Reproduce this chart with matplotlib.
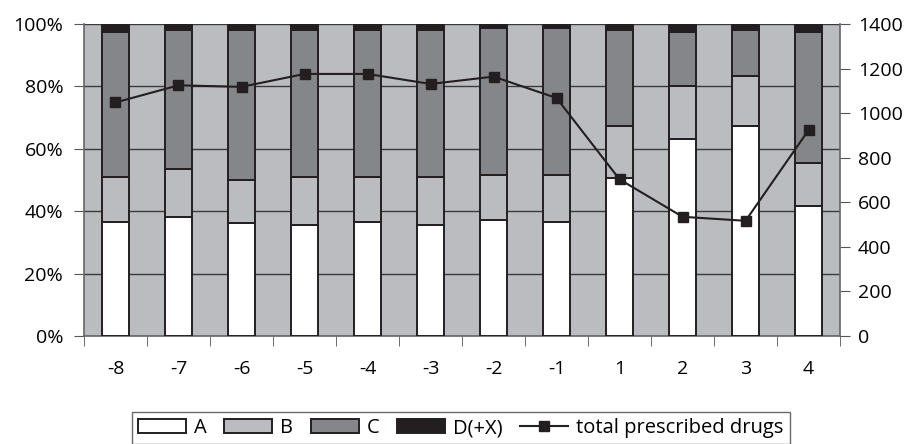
import matplotlib.pyplot as plt
import numpy as np

plt.rcParams['font.family'] = ['Open Sans', 'DejaVu Sans']

periods = ['-8', '-7', '-6', '-5', '-4', '-3', '-2', '-1', '1', '2', '3', '4']
# shares (%) per category
a = [36.6, 38.0, 36.1, 35.6, 36.6, 35.6, 37.2, 36.6, 50.5, 63.0, 67.3, 41.8]
b = [14.5, 15.4, 13.9, 15.4, 14.4, 15.5, 14.4, 15.0, 16.9, 17.0, 16.0, 13.7]
c = [46.4, 44.7, 48.1, 47.1, 47.1, 47.0, 47.0, 47.0, 30.7, 17.3, 14.8, 41.8]
d = [2.5, 1.9, 1.9, 1.9, 1.9, 1.9, 1.4, 1.4, 1.9, 2.7, 1.9, 2.7]
total = [1048, 1125, 1118, 1176, 1176, 1131, 1164, 1068, 703, 535, 517, 924]

x = np.arange(len(periods))
fig = plt.figure(figsize=(9.07, 4.44), dpi=100)
ax = fig.add_axes([0.0926, 0.2432, 0.8336, 0.7027])
ax.set_facecolor('#bbbcc0')

w = 0.42
bot = np.zeros(len(x))
cols = ['white', '#bbbcc0', '#858689', '#231f20']
names = ['A', 'B', 'C', 'D(+X)']
handles = []
for vals, col, nm in zip([a, b, c, d], cols, names):
    h = ax.bar(x, vals, w, bottom=bot, color=col, edgecolor='#231f20', linewidth=1.4, label=nm, zorder=3)
    handles.append(h)
    bot = bot + np.array(vals)

ax.set_xlim(-0.5, len(x) - 0.5)
ax.set_ylim(0, 100)
ax.set_yticks(range(0, 101, 20))
ax.set_yticklabels([f'{v}%' for v in range(0, 101, 20)])
ax.yaxis.grid(True, color='#3a3a3a', linewidth=1.0, zorder=1)
ax.set_axisbelow(True)
ax.set_xticks(x)
ax.set_xticklabels(periods)
ax.set_xticks(np.arange(-0.5, len(x), 1), minor=True)
ax.tick_params(axis='x', which='major', length=0, pad=17, labelsize=14)
ax.tick_params(axis='x', which='minor', length=7, color='#555555')
ax.tick_params(axis='y', length=7, pad=8, labelsize=14, color='#555555')
for s in ['top', 'right']:
    ax.spines[s].set_visible(False)
for s in ['left', 'bottom']:
    ax.spines[s].set_color('#666666')
    ax.spines[s].set_linewidth(1.2)

ax2 = ax.twinx()
ln, = ax2.plot(x, total, color='#231f20', marker='s', markersize=7.5, linewidth=1.5, label='total prescribed drugs', zorder=5)
ax2.set_ylim(0, 1400)
ax2.set_yticks(range(0, 1401, 200))
ax2.tick_params(axis='y', length=7, pad=6, labelsize=14, color='#555555')
for s in ['top', 'left', 'bottom']:
    ax2.spines[s].set_visible(False)
ax2.spines['right'].set_color('#666666')
ax2.spines['right'].set_linewidth(1.2)

fig.legend(handles + [ln], names + ['total prescribed drugs'], loc='upper center',
           bbox_to_anchor=(0.508, 0.072), ncol=5, frameon=True, fancybox=False,
           edgecolor='#444444', fontsize=14.5, handlelength=2.4, handletextpad=0.4,
           columnspacing=0.85, borderpad=0.3, borderaxespad=0)

fig.savefig('out.png', dpi=100)
